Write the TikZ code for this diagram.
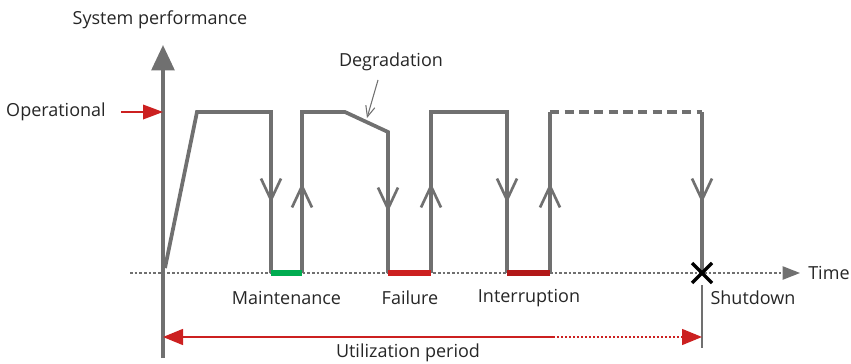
\documentclass[tikz,border=0pt]{standalone}
\usepackage{fontspec}
\setmainfont{Open Sans}
\usepackage{xcolor}
\usetikzlibrary{arrows.meta,positioning,calc}

\definecolor{linegray}{RGB}{112,112,112}
\definecolor{alertred}{RGB}{204,32,32}
\definecolor{darkred}{RGB}{178,24,24}
\definecolor{okgreen}{RGB}{0,172,80}

\begin{document}
\begin{tikzpicture}[
    x=0.75pt, y=-0.75pt,
    every node/.style={font=\fontsize{13.5}{15}\selectfont, text=black!85, inner sep=0pt},
    profile/.style={draw=linegray, line width=2.8pt, line join=miter},
    flow/.style={draw=linegray, line width=2.8pt, -{Straight Barb[length=16pt, width=15pt, line width=2pt]}},
    pointer/.style={draw=alertred, line width=1.1pt, -{Triangle[length=15pt, width=11pt]}},
    outage/.style={line width=3.8pt},
    leader/.style={draw=linegray, line width=0.8pt, -{Straight Barb[length=8pt, width=7pt]}}
]
\useasboundingbox (0,0) rectangle (851,364);

% axes
\coordinate (origin) at (163,273);
\coordinate (ytop) at (163,45);
\coordinate (ybot) at (163,358);
\coordinate (tstart) at (130,273);
\coordinate (tend) at (800,273);
\draw[draw=linegray, line width=2.8pt, -{Triangle[length=19pt, width=17pt]}] (ybot) -- (ytop);
\draw[draw=linegray, line width=0.9pt, dash pattern=on 2pt off 1.5pt] (tstart) -- (783,273);
\draw[draw=linegray, line width=0.9pt, -{Triangle[length=13pt, width=10pt]}] (783,273) -- (tend);

% labels
\node (perf) at (160,20) {System performance};
\node (time) [right=6pt of tend] {Time};
\node (oper) at (56,112) {Operational};
\coordinate (operend) at (163,112);
\draw[pointer] (oper.east) ++(15,0) -- (operend);

% performance profile
\coordinate (d1) at (271,273);
\coordinate (u1) at (302,273);
\coordinate (d2) at (388,273);
\coordinate (u2) at (431,273);
\coordinate (d3) at (507,273);
\coordinate (u3) at (550,273);
\coordinate (stop) at (702,273);
\draw[profile] (165,268) -- (197,112) -| (d1);
\draw[profile] (u1) |- (345,112) -- (388,132) -- (d2);
\draw[profile] (u2) |- (507,112) -- (d3);
\draw[profile] (u3) -- (550,112);
\draw[profile, dash pattern=on 7pt off 4pt] (550,112) -- (702,112);
\draw[profile] (702,112) -- (stop);

% direction marks
\draw[flow] (271,112) -- (271,203);
\draw[flow] (u1) -- (302,183);
\draw[flow] (388,132) -- (388,212);
\draw[flow] (u2) -- (431,183);
\draw[flow] (507,112) -- (507,203);
\draw[flow] (u3) -- (550,183);
\draw[flow] (702,112) -- (702,203);

% outages
\draw[outage, draw=okgreen] (d1) -- (u1);
\draw[outage, draw=alertred] (d2) -- (u2);
\draw[outage, draw=darkred] (d3) -- (u3);
\node (maint) at ($(d1)!0.5!(u1)+(0,25)$) {Maintenance};
\node (fail) at (410,298) {Failure};
\node (intr) at (529,298) {Interruption};
\node (shut) at (753,298) {Shutdown};

% shutdown
\draw[line width=2.6pt] (692,263) -- (712,283) (692,283) -- (712,263);
\draw[draw=linegray, line width=1.2pt] (702,285) -- (702,348);

% degradation
\node (degr) at (391,62) {Degradation};
\draw[leader] (378,80) -- (367,118);

% utilization period
\coordinate (uleft) at (163,337);
\coordinate (umid) at (553,337);
\coordinate (uright) at (702,337);
\draw[draw=alertred, line width=1.1pt, {Triangle[length=15pt, width=12pt]}-] (uleft) -- (umid);
\draw[draw=alertred, line width=1.1pt, dash pattern=on 1.5pt off 1.5pt, -{Triangle[length=15pt, width=12pt]}] (umid) -- (uright);
\node (util) at (408,353) {Utilization period};
\end{tikzpicture}
\end{document}
